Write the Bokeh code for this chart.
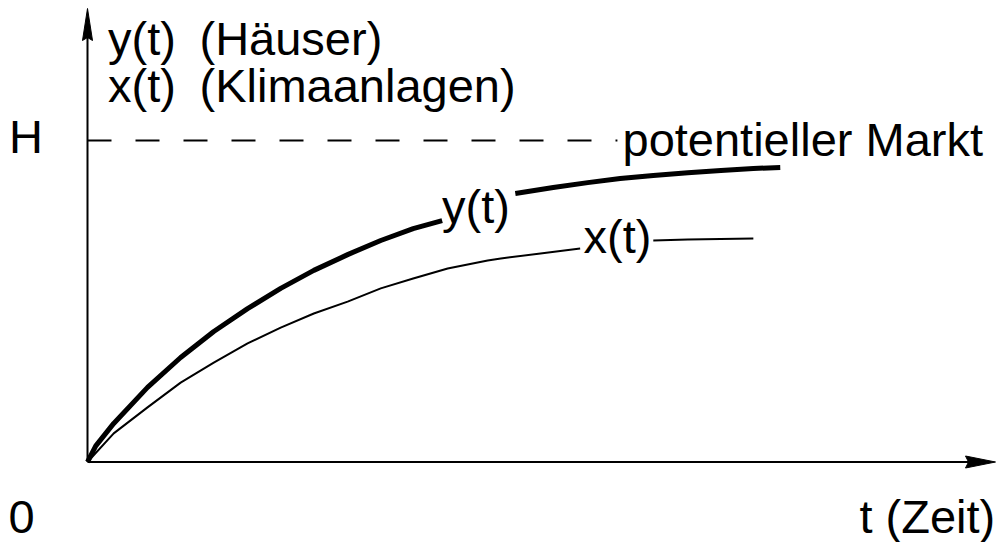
import math
from bokeh.plotting import figure
from bokeh.models import Range1d, ColumnDataSource
from bokeh.core.properties import value
from bokeh.embed import file_html
from bokeh.resources import INLINE

# ---------------- data (H = 1) ----------------
nan = float("nan")
# y(t) (Häuser) - thick curve, gap where its label sits
t_y = [0.0, 0.12, 0.38, 0.87, 1.35, 1.83, 2.32, 2.80, 3.28, 3.77, 4.25, 4.72, 5.14,
       nan,
       6.20, 6.75, 7.25, 7.72, 8.20, 8.70, 9.18, 9.65, 10.04]
y_vals = [0.0, 0.05, 0.120, 0.232, 0.325, 0.406, 0.477, 0.540, 0.596, 0.645, 0.689, 0.726, 0.751,
          nan,
          0.835, 0.854, 0.869, 0.882, 0.891, 0.900, 0.907, 0.913, 0.916]
# x(t) (Klimaanlagen) - thin curve, gap where its label sits
t_x = [0.0, 0.38, 0.87, 1.35, 1.83, 2.32, 2.80, 3.28, 3.77, 4.25, 4.72, 5.22, 5.80, 5.99, 7.14,
       nan,
       8.20, 8.70, 9.65]
x_vals = [0.0, 0.089, 0.170, 0.247, 0.309, 0.369, 0.418, 0.462, 0.499, 0.540, 0.571, 0.602, 0.627, 0.633, 0.664,
          nan,
          0.689, 0.692, 0.695]
H_LEVEL = 1.0          # potentieller Markt
H_LINE_END = 7.68      # where the dashed line stops (just before its label)

# ---------------- layout helpers (page pixel -> data) ----------------
# Bokeh's standalone page template sets body margin to 0, so the canvas starts at (0, 0)
W, HGT = 998, 542
MARGIN = 0
OX, OY = 87.0, 461.5           # page pixel of the origin
PX_T, PX_V = 69.0, 321.5       # pixels per data unit
TEXT_SHIFT = 19                # bokeh's text anchor sits this far above the baseline
def tx(px):  # page x pixel -> data t
    return (px - OX) / PX_T
def vy(py):  # page y pixel -> data value
    return (OY - py) / PX_V

p = figure(width=W, height=HGT,
           x_range=Range1d(tx(MARGIN), tx(MARGIN + W)),
           y_range=Range1d(vy(MARGIN + HGT), vy(MARGIN)),
           x_axis_location=None, y_axis_location=None,
           toolbar_location=None, output_backend="svg", min_border=0)
p.grid.visible = False
p.outline_line_color = None
p.background_fill_color = "white"
p.border_fill_color = "white"

# axes with arrows
T_END = tx(995)
V_END = vy(8)
p.segment(x0=[0, 0], y0=[0, 0], x1=[T_END - 20 / PX_T, 0], y1=[0, V_END - 20 / PX_V],
          line_color="black", line_width=2)
ah_len_t, ah_half_v = 30 / PX_T, 6 / PX_V
av_len_v, av_half_t = 32 / PX_V, 5 / PX_T
p.patches(xs=[[T_END, T_END - ah_len_t, T_END - ah_len_t + 3 / PX_T, T_END - ah_len_t],
              [0, -av_half_t, 0, av_half_t]],
          ys=[[0, ah_half_v, 0, -ah_half_v],
              [V_END, V_END - av_len_v, V_END - av_len_v + 3 / PX_V, V_END - av_len_v]],
          fill_color="black", line_color="black", line_width=1)

# dashed market potential line
p.line(x=[0, H_LINE_END], y=[H_LEVEL, H_LEVEL], line_color="black", line_width=2,
       line_dash="24 24")

# curves
p.line(x=t_y, y=y_vals, line_color="black", line_width=5, line_join="round")
p.line(x=t_x, y=x_vals, line_color="black", line_width=2, line_join="round")

# texts (x of ink start, y of baseline, in page pixels)
labels = [
    ("y(t)", 107.5, 57), ("(Häuser)", 199, 57),
    ("x(t)", 107.5, 104), ("(Klimaanlagen)", 199, 104),
    ("H", 8.5, 155),
    ("potentieller Markt", 622, 158),
    ("y(t)", 441.5, 225),
    ("x(t)", 583, 255),
    ("0", 8, 535),
    ("t (Zeit)", 859, 535),
]
src = ColumnDataSource(dict(x=[tx(a) for _, a, _ in labels],
                            y=[vy(b - TEXT_SHIFT) for _, _, b in labels],
                            text=[s for s, _, _ in labels]))
p.text(x="x", y="y", text="text", source=src, text_font=value("Liberation Sans"),
       text_font_size=value("47px"), text_color="black",
       text_align="left", text_baseline="alphabetic")

open("out.html", "w").write(file_html(p, INLINE))
